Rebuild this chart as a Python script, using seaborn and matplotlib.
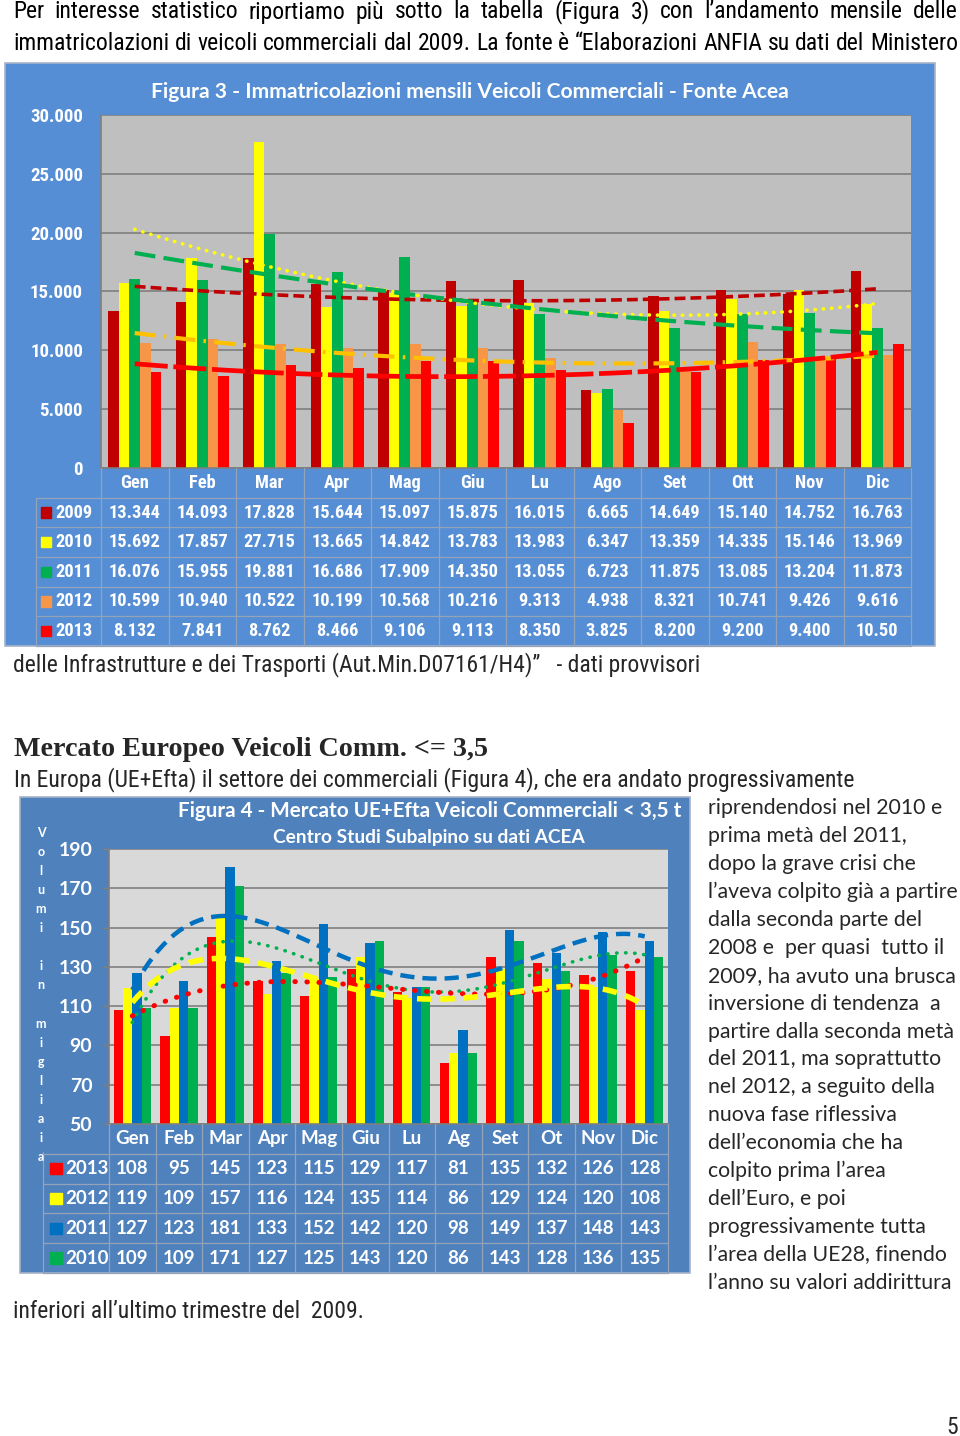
import numpy as np
import pandas as pd
import matplotlib
matplotlib.use("Agg")
import matplotlib.pyplot as plt
import seaborn as sns
from matplotlib import font_manager as fm
from matplotlib.patches import Rectangle

# ---------------- data: Figura 3 ----------------
months_f3 = ["Gen", "Feb", "Mar", "Apr", "Mag", "Giu", "Lu", "Ago", "Set", "Ott", "Nov", "Dic"]
years_f3 = ["2009", "2010", "2011", "2012", "2013"]
v2009 = [13344, 14093, 17828, 15644, 15097, 15875, 16015, 6665, 14649, 15140, 14752, 16763]
v2010 = [15692, 17857, 27715, 13665, 14842, 13783, 13983, 6347, 13359, 14335, 15146, 13969]
v2011 = [16076, 15955, 19881, 16686, 17909, 14350, 13055, 6723, 11875, 13085, 13204, 11873]
v2012 = [10599, 10940, 10522, 10199, 10568, 10216, 9313, 4938, 8321, 10741, 9426, 9616]
v2013 = [8132, 7841, 8762, 8466, 9106, 9113, 8350, 3825, 8200, 9200, 9400, 10500]
yticks_f3 = [0, 5000, 10000, 15000, 20000, 25000, 30000]

# ---------------- data: Figura 4 ----------------
months_f4 = ["Gen", "Feb", "Mar", "Apr", "Mag", "Giu", "Lu", "Ag", "Set", "Ot", "Nov", "Dic"]
years_f4 = ["2013", "2012", "2011", "2010"]
e2013 = [108, 95, 145, 123, 115, 129, 117, 81, 135, 132, 126, 128]
e2012 = [119, 109, 157, 116, 124, 135, 114, 86, 129, 124, 120, 108]
e2011 = [127, 123, 181, 133, 152, 142, 120, 98, 149, 137, 148, 143]
e2010 = [109, 109, 171, 127, 125, 143, 120, 86, 143, 128, 136, 135]
yticks_f4 = [50, 70, 90, 110, 130, 150, 170, 190]

# ---------------- page text ----------------
top_lines = [
    "Per interesse statistico riportiamo più sotto la tabella (Figura 3) con l’andamento mensile delle",
    "immatricolazioni di veicoli commerciali dal 2009. La fonte è “Elaborazioni ANFIA su dati del Ministero",
]
after_f3 = "delle Infrastrutture e dei Trasporti (Aut.Min.D07161/H4)”   - dati provvisori"
heading = "Mercato Europeo Veicoli Comm. <= 3,5"
intro_f4 = "In Europa (UE+Efta) il settore dei commerciali (Figura 4), che era andato progressivamente"
right_col = [
    "riprendendosi nel 2010 e", "prima metà del 2011,", "dopo la grave crisi che",
    "l’aveva colpito già a partire", "dalla seconda parte del", "2008 e  per quasi  tutto il",
    "2009, ha avuto una brusca", "inversione di tendenza  a", "partire dalla seconda metà",
    "del 2011, ma soprattutto", "nel 2012, a seguito della", "nuova fase riflessiva",
    "dell’economia che ha", "colpito prima l’area", "dell’Euro, e poi",
    "progressivamente tutta", "l’area della UE28, finendo", "l’anno su valori addirittura",
]
after_f4 = "inferiori all’ultimo trimestre del  2009."
title_f3 = "Figura 3 - Immatricolazioni mensili Veicoli Commerciali - Fonte Acea"
title_f4 = "Figura 4 - Mercato UE+Efta Veicoli Commerciali < 3,5 t"
subtitle_f4 = "Centro Studi Subalpino su dati ACEA"
ylabel_f4 = "Volumi in migliaia"

# ---------------- fonts ----------------
names = {f.name for f in fm.fontManager.ttflist}
CAL = "Lato" if "Lato" in names else "DejaVu Sans"
SERIF = "Liberation Serif" if "Liberation Serif" in names else "DejaVu Serif"
cands = ["Liberation Sans Narrow", "Arial Narrow", "Roboto Condensed", "Open Sans Condensed",
         "Noto Sans Condensed", "DejaVu Sans Condensed", "Nimbus Sans Narrow"]
NARROW = next((c for c in cands if c in names), None)
NSTRETCH = "normal"
if NARROW is None:
    cond = [f for f in fm.fontManager.ttflist
            if f.name in ("DejaVu Sans", "Noto Sans", "Open Sans", "Roboto")
            and str(f.stretch) in ("condensed", "semi-condensed", "extra-condensed")]
    if cond:
        NARROW, NSTRETCH = cond[0].name, "condensed"
    else:
        NARROW = CAL
NK = dict(family=NARROW, fontstretch=NSTRETCH)

sns.set_theme(style="white")
plt.rcParams["font.family"] = [CAL, "DejaVu Sans"]

W, H = 960, 1436
fig = plt.figure(figsize=(W / 100, H / 100), dpi=100)
fig.patch.set_facecolor("white")
renderer = fig.canvas.get_renderer()


def fx(x):
    return x / W


def fy(y):
    return 1 - y / H


def box(x0, y0, x1, y1):
    return [x0 / W, 1 - y1 / H, (x1 - x0) / W, (y1 - y0) / H]


def twidth(t):
    return t.get_window_extent(renderer).width


def probe_size(s, width, size0=14, **kw):
    t = fig.text(0, 0, s, fontsize=size0, **kw)
    w = twidth(t)
    t.remove()
    return size0 * width / w


def fit_text(x, y, s, width, size0=14, **kw):
    t = fig.text(fx(x), fy(y), s, fontsize=size0, **kw)
    t.set_fontsize(size0 * width / twidth(t))
    return t


def justify(x0, x1, y, s, size, **kw):
    words = s.split(" ")
    ts = [fig.text(0, fy(y), w, fontsize=size, va="center", ha="left", **kw) for w in words]
    ws = [twidth(t) for t in ts]
    gap = (x1 - x0 - sum(ws)) / (len(words) - 1)
    xx = x0
    for t, w in zip(ts, ws):
        t.set_x(fx(xx))
        xx += w + gap


# ================= page text =================
size_top = min(17.0, probe_size(top_lines[0], 925, **NK))
justify(13, 958, 12, top_lines[0], size_top, color="black", **NK)
justify(13, 958, 44, top_lines[1], size_top, color="black", **NK)
fig.text(fx(13), fy(665), after_f3, fontsize=size_top, va="center", ha="left", **NK)
fit_text(14, 750, heading, 476, family=SERIF, fontweight="bold", va="center", ha="left")
fig.text(fx(14), fy(780), intro_f4, fontsize=size_top, va="center", ha="left", **NK)
size_rc = probe_size(right_col[3], 250, family=CAL)
for k, line in enumerate(right_col):
    fig.text(fx(708), fy(808 + k * 27.94), line, fontsize=size_rc, family=CAL, va="center", ha="left")
fig.text(fx(13), fy(1311), after_f4, fontsize=size_top, va="center", ha="left", **NK)
fig.text(fx(958), fy(1427), "5", fontsize=size_top, va="center", ha="right", **NK)

# ================= Figura 3 =================
fig.add_artist(Rectangle((fx(5), fy(646)), 930 / W, 583 / H, transform=fig.transFigure,
                         facecolor="#558ED5", edgecolor="#A6B4C8", lw=1.2, zorder=-5))
fit_text(470, 92, title_f3, 639, family=CAL, fontweight="bold", color="white", ha="center", va="center")

ax3 = fig.add_axes(box(101, 115, 911, 468))
series3 = [v2009, v2010, v2011, v2012, v2013]
df3 = pd.DataFrame({
    "Mese": months_f3 * len(years_f3),
    "Anno": np.repeat(years_f3, len(months_f3)),
    "Valore": np.concatenate(series3),
})
pal3 = ["#C00000", "#FFFF00", "#00B050", "#F79646", "#FF0000"]
sns.barplot(data=df3, x="Mese", y="Valore", hue="Anno", order=months_f3, hue_order=years_f3,
            palette=pal3, width=0.79, gap=0, saturation=1, errorbar=None, legend=False,
            linewidth=0, ax=ax3)
ax3.set_facecolor("#BFBFBF")
ax3.set_xlim(-0.5, 11.5)
ax3.set_ylim(0, 30000)
ax3.set_yticks(yticks_f3, labels=[f"{v:,}".replace(",", ".") for v in yticks_f3])
ax3.set_xticks([])
ax3.set_xlabel("")
ax3.set_ylabel("")
ax3.yaxis.grid(True, color="#7F7F7F", lw=1.2)
ax3.set_axisbelow(True)
tick3 = min(14.5, probe_size("30.000", 53, fontweight="bold", **NK))
ax3.tick_params(axis="y", length=0, pad=13, labelcolor="white", labelsize=tick3)
for lab in ax3.get_yticklabels():
    lab.set_fontfamily(NARROW)
    lab.set_fontstretch(NSTRETCH)
    lab.set_fontweight("bold")
for sp in ["top", "right"]:
    ax3.spines[sp].set_visible(False)
for sp in ["left", "bottom"]:
    ax3.spines[sp].set_color("#7F7F7F")
    ax3.spines[sp].set_linewidth(1.2)

xc = np.arange(12)
xs = np.linspace(0, 11, 200)
styles3 = [
    ("#C00000", 2.6, (0, (3, 1.4)), "butt"),
    ("#FFFF00", 2.6, (0, (0.1, 2.2)), "round"),
    ("#00B050", 3.0, (0, (5, 2)), "butt"),
    ("#FFC000", 3.0, (0, (5, 2, 0.6, 2)), "butt"),
    ("#FF0000", 3.4, (0, (7, 1.2)), "butt"),
]
for vals, (c, lw, ls, cap) in zip(series3, styles3):
    p = np.polyfit(xc, vals, 2)
    ax3.plot(xs, np.polyval(p, xs), color=c, lw=lw, linestyle=ls, dash_capstyle=cap, zorder=5)

# table under Figura 3
tab3 = fig.add_axes(box(101, 468, 911, 646))
tab3.set_xlim(-0.5, 11.5)
tab3.set_ylim(6, 0)
tab3.axis("off")
px3 = lambda p: (p - 101) / 67.5 - 0.5
LC = "#95A3B8"
for i in range(13):
    tab3.plot([i - 0.5, i - 0.5], [0, 6], color=LC, lw=0.9, clip_on=False)
tab3.plot([px3(36), px3(36)], [1, 6], color=LC, lw=0.9, clip_on=False)
for r in range(1, 7):
    tab3.plot([px3(36), 11.5], [r, r], color=LC, lw=0.9, clip_on=False)
tsize3 = min(14.5, probe_size("13.344", 52, fontweight="bold", **NK))
for i, m in enumerate(months_f3):
    tab3.text(i, 0.5, m, ha="center", va="center", color="white", fontsize=tsize3,
              fontweight="bold", **NK)
for r, (yr, vals, c) in enumerate(zip(years_f3, series3, pal3), start=1):
    tab3.add_patch(Rectangle((px3(41), r + 0.5 - 0.17), 10 / 67.5, 0.34, color=c, clip_on=False))
    tab3.text(px3(55), r + 0.5, yr, ha="left", va="center", color="white", fontsize=tsize3,
              fontweight="bold", clip_on=False, **NK)
    labels = [f"{v:,}".replace(",", ".") for v in vals]
    if yr == "2013":
        labels[-1] = labels[-1][:5]  # cell truncated in the source table
    for i, s in enumerate(labels):
        tab3.text(i, r + 0.5, s, ha="center", va="center", color="white", fontsize=tsize3,
                  fontweight="bold", **NK)

# ================= Figura 4 =================
fig.add_artist(Rectangle((fx(20), fy(1273)), 670 / W, 476 / H, transform=fig.transFigure,
                         facecolor="#4F81BD", edgecolor="#A6B4C8", lw=1.2, zorder=-5))
fit_text(430, 811, title_f4, 507, family=CAL, fontweight="bold", color="white", ha="center", va="center")
fit_text(429, 838, subtitle_f4, 314, family=CAL, fontweight="bold", color="white", ha="center", va="center")
for k, ch in enumerate(ylabel_f4):
    fig.text(fx(41), fy(833 + k * 19.06), ch, ha="center", va="center", color="white",
             fontsize=9, fontweight="bold", family=CAL)

ax4 = fig.add_axes(box(109, 849, 668, 1124))
series4 = [e2013, e2012, e2011, e2010]
df4 = pd.DataFrame({
    "Mese": months_f4 * len(years_f4),
    "Anno": np.repeat(years_f4, len(months_f4)),
    "Valore": np.concatenate(series4),
})
pal4 = ["#FF0000", "#FFFF00", "#0070C0", "#00B050"]
sns.barplot(data=df4, x="Mese", y="Valore", hue="Anno", order=months_f4, hue_order=years_f4,
            palette=pal4, width=0.8, gap=0, saturation=1, errorbar=None, legend=False,
            linewidth=0, ax=ax4)
ax4.set_facecolor("#D9D9D9")
ax4.set_xlim(-0.5, 11.5)
ax4.set_ylim(50, 190)
ax4.set_yticks(yticks_f4)
ax4.set_xticks([])
ax4.set_xlabel("")
ax4.set_ylabel("")
ax4.yaxis.grid(True, color="#7F7F7F", lw=1.2)
ax4.set_axisbelow(True)
ax4.tick_params(axis="y", left=True, length=5, width=1, color="#7F7F7F", pad=7,
                labelcolor="white", labelsize=14)
for lab in ax4.get_yticklabels():
    lab.set_fontfamily(CAL)
    lab.set_fontweight("bold")
for sp in ["top", "right"]:
    ax4.spines[sp].set_visible(False)
for sp in ["left", "bottom"]:
    ax4.spines[sp].set_color("#7F7F7F")
    ax4.spines[sp].set_linewidth(1.2)

# trend lines: (colour, width, dash, cap, polynomial order)
styles4 = [
    ("#FF0000", 3.6, (0, (0.1, 2.3)), "round", 3),
    ("#FFFF00", 4.0, (0, (2.6, 1.6)), "butt", 4),
    ("#0070C0", 3.2, (0, (3.2, 1.8)), "butt", 4),
    ("#00B050", 2.6, (0, (0.1, 2.4)), "round", 4),
]
draw_order = [2, 3, 0, 1]
for k in draw_order:
    c, lw, ls, cap, deg = styles4[k]
    p = np.polyfit(xc, series4[k], deg)
    ax4.plot(xs, np.polyval(p, xs), color=c, lw=lw, linestyle=ls, dash_capstyle=cap, zorder=5)

tab4 = fig.add_axes(box(109, 1124, 668, 1273))
tab4.set_xlim(-0.5, 11.5)
tab4.set_ylim(5, 0)
tab4.axis("off")
cw4 = (668 - 109) / 12
px4 = lambda p: (p - 109) / cw4 - 0.5
for i in range(13):
    tab4.plot([i - 0.5, i - 0.5], [0, 5], color=LC, lw=0.9, clip_on=False)
tab4.plot([px4(43), px4(43)], [0.95, 5], color=LC, lw=0.9, clip_on=False)
for r in range(1, 6):
    tab4.plot([px4(43), 11.5], [r, r], color=LC, lw=0.9, clip_on=False)
for i, m in enumerate(months_f4):
    tab4.text(i, 0.5, m, ha="center", va="center", color="white", fontsize=13.5,
              family=CAL, fontweight="bold")
for r, (yr, vals, c) in enumerate(zip(years_f4, series4, pal4), start=1):
    tab4.add_patch(Rectangle((px4(50), r + 0.5 - 0.19), 12 / cw4, 0.38, color=c, clip_on=False))
    tab4.text(px4(65), r + 0.5, yr, ha="left", va="center", color="white", fontsize=13.5,
              family=CAL, fontweight="bold", clip_on=False)
    for i, v in enumerate(vals):
        tab4.text(i, r + 0.5, str(v), ha="center", va="center", color="white", fontsize=13.5,
                  family=CAL, fontweight="bold")

fig.savefig("out.png", dpi=100, facecolor="white")
